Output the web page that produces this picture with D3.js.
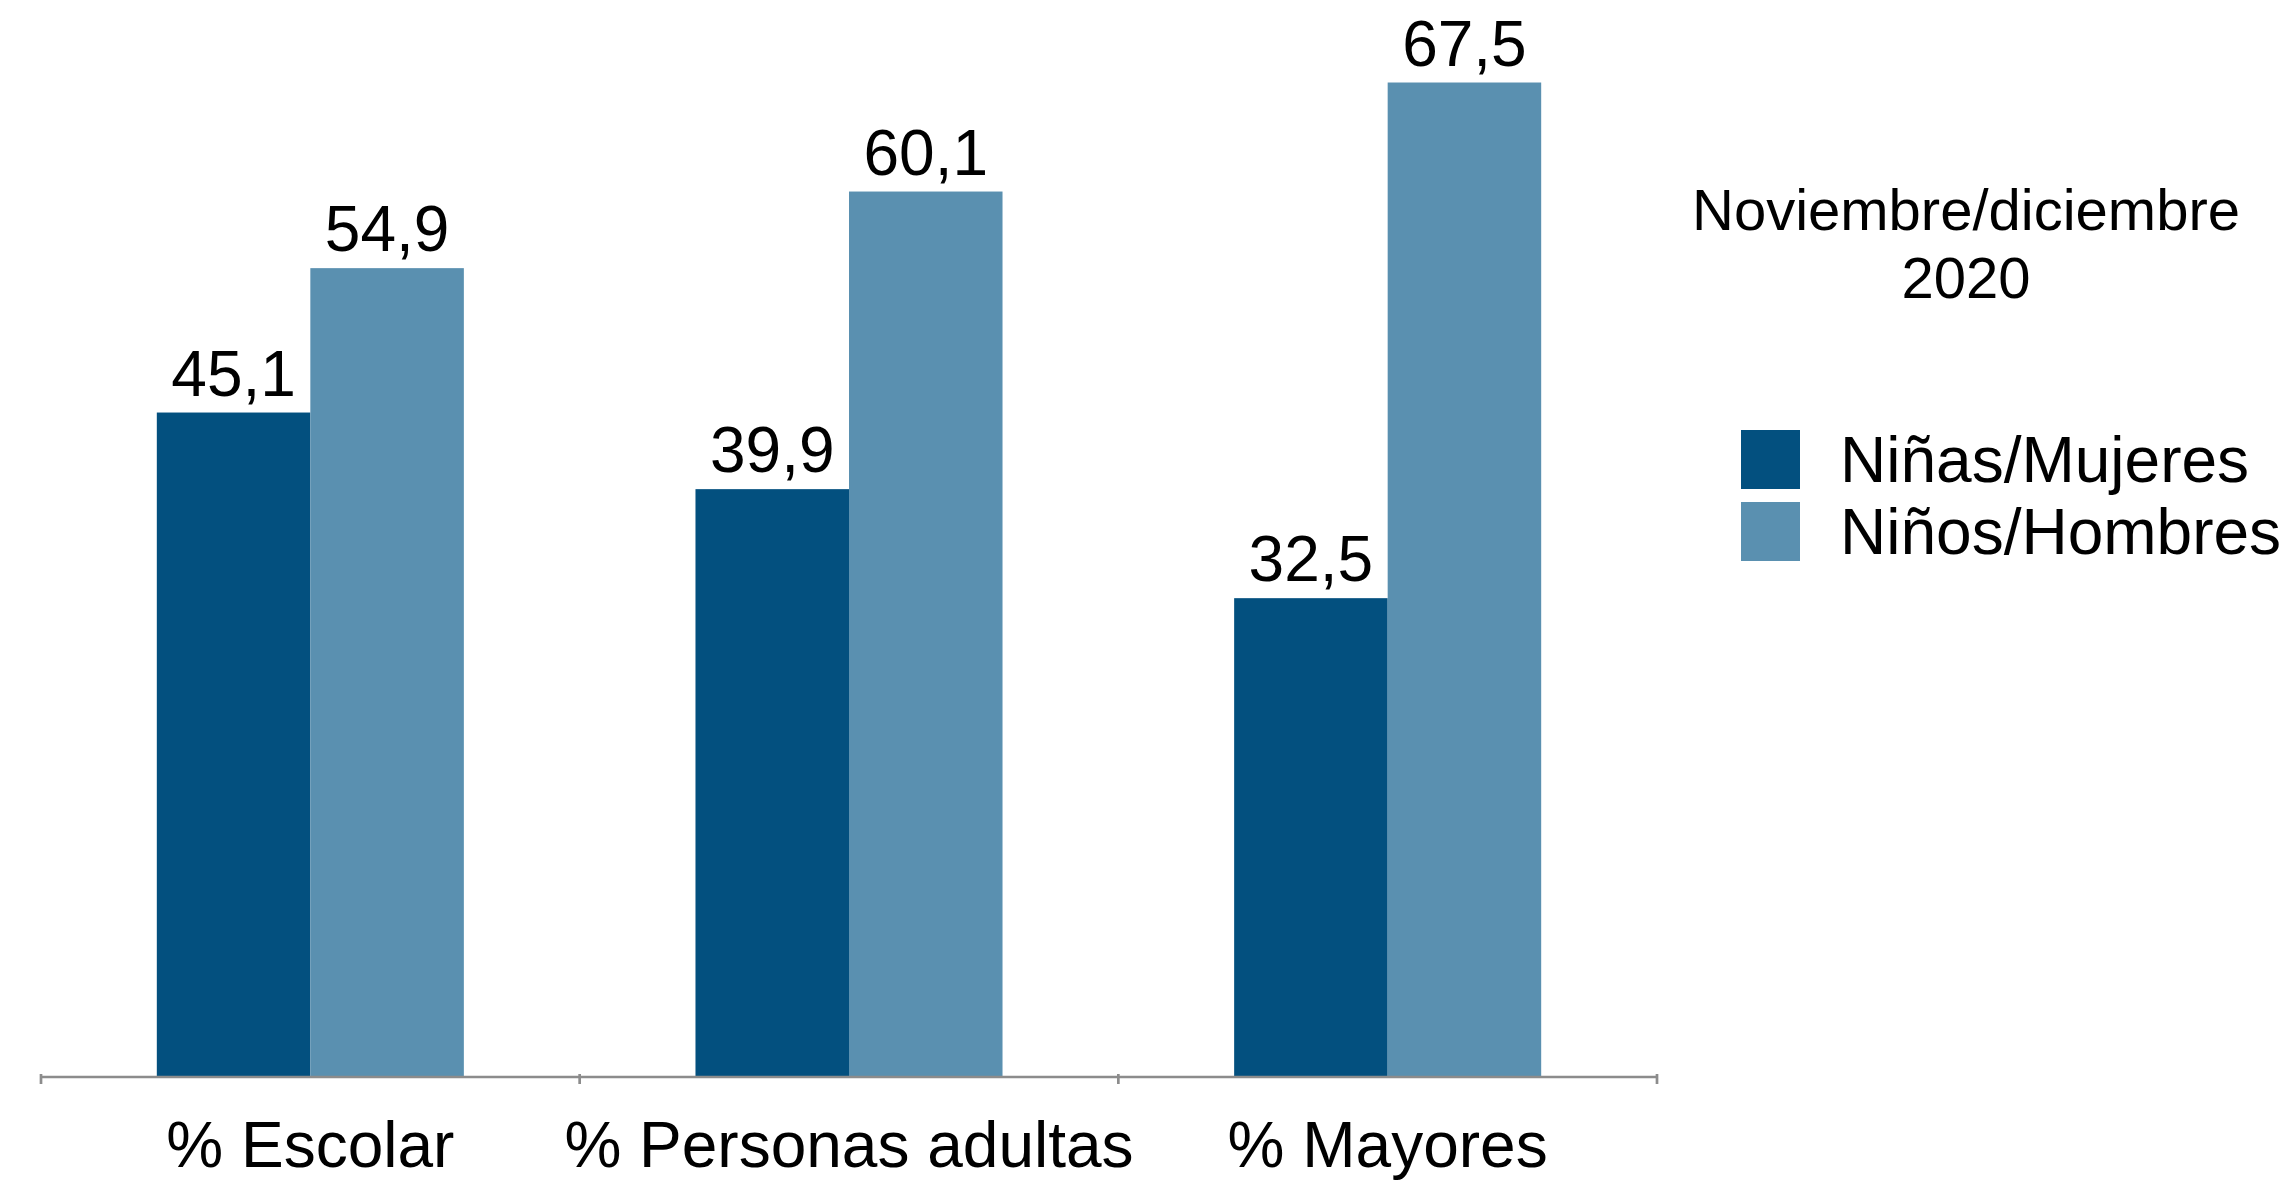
<!DOCTYPE html>
<html>
<head>
<meta charset="utf-8">
<script src="https://cdn.jsdelivr.net/npm/d3@7"></script>
<style>
  body { margin: 0; background: #fff; }
  text { font-family: "Liberation Sans", Arial, sans-serif; fill: #000; }
</style>
</head>
<body>
<div id="chart"></div>
<script>
(function() {
  var categories = ["% Escolar", "% Personas adultas", "% Mayores"];
  var seriesNames = ["Niñas/Mujeres", "Niños/Hombres"];
  var mujeres = [45.1, 39.9, 32.5];
  var hombres = [54.9, 60.1, 67.5];
  var legendTitle = ["Noviembre/diciembre", "2020"];
  var colors = ["#03507f", "#5a90b0"];

  var outerWidth = 2284,
      outerHeight = 1181,
      baseline = 1077;

  var svg = d3.select("#chart").append("svg")
      .attr("width", outerWidth)
      .attr("height", outerHeight);

  var data = categories.map((c, i) => ({ cat: c, values: [mujeres[i], hombres[i]] }));

  var x0 = d3.scaleBand()
      .domain(categories)
      .range([41, 1657])
      .paddingInner(0.43)
      .paddingOuter(0.215);

  var x1 = d3.scaleBand()
      .domain(d3.range(seriesNames.length))
      .range([0, x0.bandwidth()]);

  var y = d3.scaleLinear()
      .domain([0, 73.1])
      .range([baseline, 0]);

  var groups = svg.append("g")
    .selectAll("g")
      .data(data)
    .enter().append("g")
      .attr("transform", d => "translate(" + x0(d.cat) + ",0)");

  groups.selectAll("rect")
      .data(d => d.values)
    .enter().append("rect")
      .attr("x", (d, i) => x1(i))
      .attr("width", x1.bandwidth())
      .attr("y", d => y(d))
      .attr("height", d => baseline - y(d))
      .attr("fill", (d, i) => colors[i]);

  groups.selectAll("text.value")
      .data(d => d.values)
    .enter().append("text")
      .attr("class", "value")
      .attr("x", (d, i) => x1(i) + x1.bandwidth() / 2)
      .attr("y", d => y(d) - 17)
      .attr("text-anchor", "middle")
      .attr("font-size", "64px")
      .text(d => d3.format(".1f")(d).replace(".", ","));

  // axis line with ticks at category boundaries
  var axis = svg.append("g").attr("stroke", "#8c8c8c");
  var range = x0.range();
  axis.append("line")
      .attr("x1", range[0]).attr("x2", range[1])
      .attr("y1", baseline).attr("y2", baseline)
      .attr("stroke-width", 2.7);

  var bounds = d3.range(categories.length + 1).map(i => range[0] + i * x0.step());
  axis.selectAll("line.tick")
      .data(bounds)
    .enter().append("line")
      .attr("class", "tick")
      .attr("x1", d => d).attr("x2", d => d)
      .attr("y1", baseline - 3).attr("y2", baseline + 7)
      .attr("stroke-width", 2.7);

  svg.append("g")
    .selectAll("text")
      .data(categories)
    .enter().append("text")
      .attr("x", d => x0(d) + x0.bandwidth() / 2)
      .attr("y", 1167)
      .attr("text-anchor", "middle")
      .attr("font-size", "64px")
      .text(d => d);

  // legend
  var legend = svg.append("g");

  legend.selectAll("text.title")
      .data(legendTitle)
    .enter().append("text")
      .attr("class", "title")
      .attr("x", 1966)
      .attr("y", (d, i) => 230 + i * 68)
      .attr("text-anchor", "middle")
      .attr("font-size", "58px")
      .text(d => d);

  var items = legend.selectAll("g.item")
      .data(seriesNames)
    .enter().append("g")
      .attr("class", "item")
      .attr("transform", (d, i) => "translate(1741," + (430 + i * 72) + ")");

  items.append("rect")
      .attr("width", 59)
      .attr("height", 59)
      .attr("fill", (d, i) => colors[i]);

  items.append("text")
      .attr("x", 99)
      .attr("y", 52)
      .attr("font-size", "64px")
      .text(d => d);
})();
</script>
</body>
</html>
